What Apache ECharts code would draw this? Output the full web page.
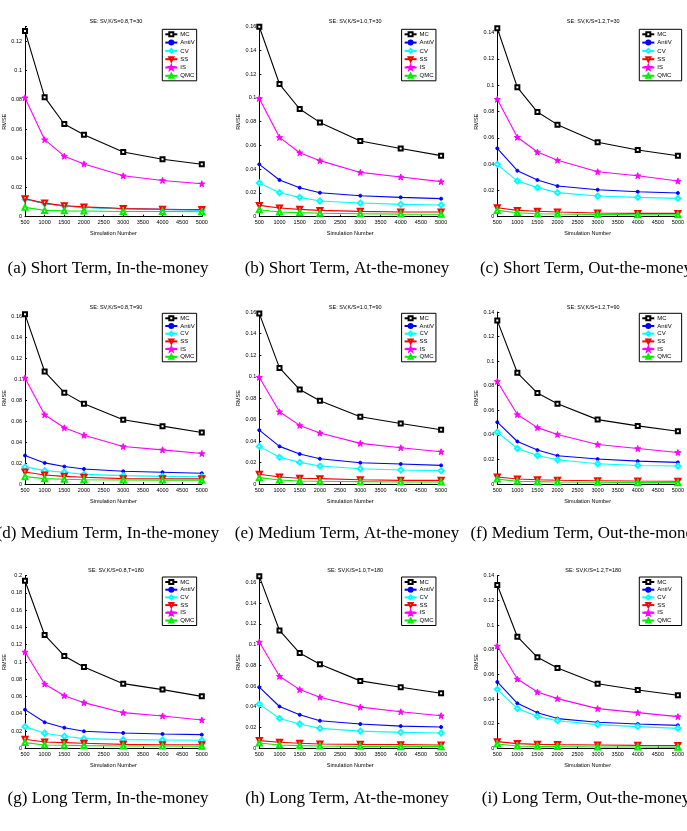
<!DOCTYPE html>
<html>
<head>
<meta charset="utf-8">
<script src="https://cdn.jsdelivr.net/npm/echarts@6/dist/echarts.min.js"></script>
<style>
  html, body { margin: 0; padding: 0; background: #fff; }
  #main { width: 687px; height: 831px; }
</style>
</head>
<body>
<div id="main"></div>
<script>
// simulation numbers on the x axis
const simN = [500, 1000, 1500, 2000, 3000, 4000, 5000];
const methods = ['MC', 'AntiV', 'CV', 'SS', 'IS', 'QMC'];

// (a) K/S=0.8, T=30
const aMC    = [0.127, 0.0818, 0.0634, 0.0561, 0.0443, 0.0393, 0.0359];
const aAntiV = [0.0121, 0.0091, 0.0073, 0.0065, 0.0054, 0.0050, 0.0047];
const aCV    = [0.0120, 0.0090, 0.0072, 0.0064, 0.0053, 0.0049, 0.0046];
const aSS    = [0.0123, 0.0093, 0.0075, 0.0067, 0.0056, 0.0051, 0.0049];
const aIS    = [0.0814, 0.0527, 0.0414, 0.0361, 0.0280, 0.0248, 0.0225];
const aQMC   = [0.0064, 0.0043, 0.0040, 0.0039, 0.0036, 0.0036, 0.0034];

// (b) K/S=1.0, T=30
const bMC    = [0.160, 0.1117, 0.0907, 0.0794, 0.0637, 0.0575, 0.0514];
const bAntiV = [0.0441, 0.0309, 0.0244, 0.0202, 0.0177, 0.0163, 0.0152];
const bCV    = [0.0284, 0.0202, 0.0163, 0.0132, 0.0115, 0.0104, 0.0098];
const bSS    = [0.0095, 0.0073, 0.0062, 0.0053, 0.0045, 0.0040, 0.0039];
const bIS    = [0.0996, 0.0668, 0.0539, 0.0472, 0.0373, 0.0334, 0.0295];
const bQMC   = [0.0059, 0.0040, 0.0034, 0.0029, 0.0025, 0.0022, 0.0021];

// (c) K/S=1.2, T=30
const cMC    = [0.1433, 0.0984, 0.0796, 0.0700, 0.0566, 0.0507, 0.0464];
const cAntiV = [0.0520, 0.0350, 0.0279, 0.0233, 0.0205, 0.0190, 0.0180];
const cCV    = [0.0398, 0.0271, 0.0221, 0.0183, 0.0157, 0.0147, 0.0139];
const cSS    = [0.0068, 0.0048, 0.0041, 0.0036, 0.0028, 0.0025, 0.0025];
const cIS    = [0.0893, 0.0604, 0.0492, 0.0429, 0.0342, 0.0312, 0.0271];
const cQMC   = [0.0048, 0.0030, 0.0023, 0.0020, 0.0018, 0.0015, 0.0015];

// (d) K/S=0.8, T=90
const dMC    = [0.1616, 0.1071, 0.0870, 0.0765, 0.0612, 0.0551, 0.0491];
const dAntiV = [0.0271, 0.0201, 0.0166, 0.0143, 0.0121, 0.0112, 0.0102];
const dCV    = [0.0163, 0.0127, 0.0112, 0.0092, 0.0080, 0.0073, 0.0069];
const dSS    = [0.0115, 0.0086, 0.0073, 0.0064, 0.0051, 0.0050, 0.0049];
const dIS    = [0.1010, 0.0660, 0.0535, 0.0465, 0.0357, 0.0325, 0.0290];
const dQMC   = [0.0070, 0.0051, 0.0045, 0.0041, 0.0038, 0.0037, 0.0035];

// (e) K/S=1.0, T=90
const eMC    = [0.1585, 0.1080, 0.0879, 0.0774, 0.0625, 0.0563, 0.0504];
const eAntiV = [0.0501, 0.0350, 0.0279, 0.0235, 0.0198, 0.0186, 0.0173];
const eCV    = [0.0350, 0.0248, 0.0201, 0.0167, 0.0142, 0.0130, 0.0124];
const eSS    = [0.0090, 0.0065, 0.0053, 0.0050, 0.0040, 0.0034, 0.0034];
const eIS    = [0.0993, 0.0672, 0.0545, 0.0474, 0.0378, 0.0337, 0.0300];
const eQMC   = [0.0059, 0.0037, 0.0028, 0.0025, 0.0022, 0.0019, 0.0019];

// (f) K/S=1.2, T=90
const fMC    = [0.1330, 0.0905, 0.0740, 0.0654, 0.0524, 0.0473, 0.0430];
const fAntiV = [0.0503, 0.0346, 0.0276, 0.0230, 0.0203, 0.0186, 0.0176];
const fCV    = [0.0422, 0.0289, 0.0232, 0.0197, 0.0165, 0.0151, 0.0146];
const fSS    = [0.0057, 0.0041, 0.0035, 0.0030, 0.0027, 0.0024, 0.0022];
const fIS    = [0.0835, 0.0565, 0.0459, 0.0403, 0.0322, 0.0289, 0.0257];
const fQMC   = [0.0040, 0.0022, 0.0019, 0.0016, 0.0014, 0.0011, 0.0011];

// (g) K/S=0.8, T=180
const gMC    = [0.1942, 0.1313, 0.1070, 0.0942, 0.0749, 0.0680, 0.0602];
const gAntiV = [0.0448, 0.0301, 0.0239, 0.0197, 0.0178, 0.0166, 0.0158];
const gCV    = [0.0251, 0.0174, 0.0139, 0.0112, 0.0100, 0.0097, 0.0093];
const gSS    = [0.0104, 0.0073, 0.0066, 0.0058, 0.0046, 0.0042, 0.0042];
const gIS    = [0.1116, 0.0745, 0.0610, 0.0529, 0.0413, 0.0375, 0.0328];
const gQMC   = [0.0066, 0.0039, 0.0035, 0.0031, 0.0027, 0.0027, 0.0023];

// (h) K/S=1.0, T=180
const hMC    = [0.1658, 0.1136, 0.0918, 0.0810, 0.0650, 0.0589, 0.0531];
const hAntiV = [0.0589, 0.0403, 0.0323, 0.0266, 0.0234, 0.0214, 0.0205];
const hCV    = [0.0426, 0.0288, 0.0234, 0.0192, 0.0166, 0.0154, 0.0147];
const hSS    = [0.0074, 0.0058, 0.0048, 0.0042, 0.0038, 0.0035, 0.0032];
const hIS    = [0.1024, 0.0694, 0.0566, 0.0493, 0.0397, 0.0352, 0.0314];
const hQMC   = [0.0051, 0.0032, 0.0026, 0.0022, 0.0019, 0.0016, 0.0016];

// (i) K/S=1.2, T=180
const iMC    = [0.1324, 0.0905, 0.0738, 0.0651, 0.0524, 0.0473, 0.0430];
const iAntiV = [0.0538, 0.0365, 0.0289, 0.0241, 0.0211, 0.0197, 0.0186];
const iCV    = [0.0478, 0.0322, 0.0259, 0.0224, 0.0192, 0.0176, 0.0162];
const iSS    = [0.0054, 0.0038, 0.0032, 0.0030, 0.0027, 0.0024, 0.0022];
const iIS    = [0.0830, 0.0562, 0.0457, 0.0403, 0.0322, 0.0289, 0.0257];
const iQMC   = [0.0035, 0.0019, 0.0016, 0.0014, 0.0011, 0.0011, 0.0008];

const titles = [
  'SE: SV,K/S=0.8,T=30', 'SE: SV,K/S=1.0,T=30', 'SE: SV,K/S=1.2,T=30',
  'SE: SV,K/S=0.8,T=90', 'SE: SV,K/S=1.0,T=90', 'SE: SV,K/S=1.2,T=90',
  'SE: SV,K/S=0.8,T=180', 'SE: SV,K/S=1.0,T=180', 'SE: SV,K/S=1.2,T=180'
];
const captions = [
  '(a) Short Term, In-the-money', '(b) Short Term, At-the-money', '(c) Short Term, Out-the-money',
  '(d) Medium Term, In-the-money', '(e) Medium Term, At-the-money', '(f) Medium Term, Out-the-money',
  '(g) Long Term, In-the-money', '(h) Long Term, At-the-money', '(i) Long Term, Out-the-money'
];
const yMax = [0.13, 0.16, 0.1445, 0.1638, 0.16, 0.14, 0.2, 0.1664, 0.14];
const panelData = [
  [aMC, aAntiV, aCV, aSS, aIS, aQMC],
  [bMC, bAntiV, bCV, bSS, bIS, bQMC],
  [cMC, cAntiV, cCV, cSS, cIS, cQMC],
  [dMC, dAntiV, dCV, dSS, dIS, dQMC],
  [eMC, eAntiV, eCV, eSS, eIS, eQMC],
  [fMC, fAntiV, fCV, fSS, fIS, fQMC],
  [gMC, gAntiV, gCV, gSS, gIS, gQMC],
  [hMC, hAntiV, hCV, hSS, hIS, hQMC],
  [iMC, iAntiV, iCV, iSS, iIS, iQMC]
];

// layout in px
const colLeft = [20, 259.3, 497.3];
const colW = 181.8;
const rowTop = [26.7, 312, 575.7];
const rowH = [190, 172, 172.6];
const captionY = [265, 530, 795];
const captionX = [103, 342, 581];

const star = 'path://M0,-10L2.35,-3.24L9.51,-3.09L3.8,1.24L5.88,8.09L0,4L-5.88,8.09L-3.8,1.24L-9.51,-3.09L-2.35,-3.24Z';
const styles = [
  { color: '#000000', symbol: 'emptyRect', size: 4 },
  { color: '#0000ff', symbol: 'circle', size: 3 },
  { color: '#00ffff', symbol: 'emptyDiamond', size: 5 },
  { color: '#ff0000', symbol: 'emptyTriangle', size: 5, rotate: 180 },
  { color: '#ff00ff', symbol: star, size: 6 },
  { color: '#00ee00', symbol: 'emptyTriangle', size: 5 }
];

const sans = 'Liberation Sans, Arial, sans-serif';
const grid = [], xAxis = [], yAxis = [], title = [], legend = [], series = [];

panelData.forEach(function (lines, p) {
  const r = Math.floor(p / 3), c = p % 3;
  grid.push({ left: colLeft[c], top: rowTop[r], width: colW, height: rowH[r] });
  xAxis.push({
    type: 'value', gridIndex: p, min: 500, max: 5000, interval: 500,
    name: 'Simulation Number', nameLocation: 'middle', nameGap: 14,
    nameTextStyle: { fontSize: 5.5, fontFamily: sans, color: '#000' },
    axisLine: { lineStyle: { color: '#000', width: 1 } },
    axisTick: { inside: true, length: 2, lineStyle: { color: '#000' } },
    axisLabel: { fontSize: 5.5, fontFamily: sans, color: '#000', margin: 3,
      formatter: function (v) { return String(v); } },
    splitLine: { show: false }
  });
  yAxis.push({
    type: 'value', gridIndex: p, min: 0, max: yMax[p], interval: 0.02,
    name: 'RMSE', nameLocation: 'middle', nameGap: 18,
    nameTextStyle: { fontSize: 5.5, fontFamily: sans, color: '#000' },
    axisLine: { show: true, lineStyle: { color: '#000', width: 1 } },
    axisTick: { show: true, inside: true, length: 2, lineStyle: { color: '#000' } },
    axisLabel: {
      fontSize: 5.5, fontFamily: sans, color: '#000', margin: 3,
      formatter: function (v) {
        const k = v / 0.02;
        if (Math.abs(k - Math.round(k)) > 1e-6) return '';
        return String(+v.toFixed(2));
      }
    },
    splitLine: { show: false }
  });
  title.push({
    text: titles[p], left: colLeft[c] + colW / 2, top: rowTop[r] - 13, textAlign: 'center',
    textStyle: { fontSize: 5.5, fontWeight: 'normal', fontFamily: sans, color: '#000' }
  });
  title.push({
    text: captions[p], left: captionX[c], top: captionY[r] - 10, textAlign: 'center',
    textStyle: { fontSize: 17, fontWeight: 'normal', fontFamily: 'Liberation Serif, serif', color: '#000' }
  });
  legend.push({
    data: methods, orient: 'vertical',
    left: c === 2 ? 639.3 : colLeft[c] + 142.3, top: rowTop[r] + (r === 0 ? 2.6 : 1.3),
    itemWidth: 12, itemHeight: 5, itemGap: r === 0 ? 2.3 : 1.7,
    padding: c === 2 ? [2, 10, 2, 2] : [2, 2, 2, 2],
    borderColor: '#000', borderWidth: 1, borderRadius: 0, backgroundColor: '#fff',
    textStyle: { fontSize: 6, fontFamily: sans, color: '#000', padding: [0, 0, 0, -2] }
  });
  lines.forEach(function (vals, m) {
    const s = styles[m];
    series.push({
      type: 'line', name: methods[m], xAxisIndex: p, yAxisIndex: p,
      data: simN.map(function (x, k) { return [x, vals[k]]; }),
      symbol: s.symbol, symbolSize: s.size, symbolRotate: s.rotate || 0,
      lineStyle: { color: s.color, width: 1.1 },
      itemStyle: { color: s.color, borderColor: s.color, borderWidth: 1 },
      animation: false, silent: true, z: 2 + m
    });
  });
});

const chart = echarts.init(document.getElementById('main'));
chart.setOption({
  animation: false,
  backgroundColor: '#fff',
  grid: grid, xAxis: xAxis, yAxis: yAxis, title: title, legend: legend, series: series
});
</script>
</body>
</html>
